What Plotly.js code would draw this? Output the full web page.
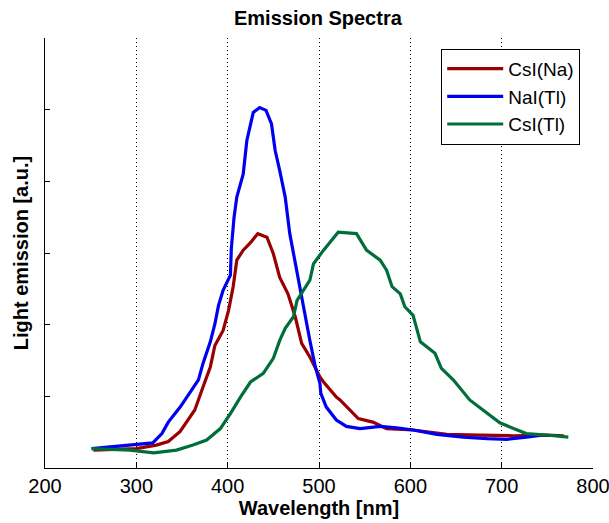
<!DOCTYPE html>
<html><head><meta charset="utf-8">
<script src="https://cdn.plot.ly/plotly-3.0.1.min.js"></script>
<style>html,body{margin:0;padding:0;background:#fff}#chart{width:609px;height:523px}</style>
</head><body><div id="chart"></div>
<script>
const csiNaX = [253,275,300,322,335,348,364,373,381,386,395,401,406,410,417,424,433,443,450,457,466,474,481,490,501,505,519,523,543,559,574,603,640,676,713,749,768];
const csiNaY = [0.25,0.26,0.27,0.32,0.37,0.51,0.81,1.13,1.41,1.71,1.92,2.20,2.53,2.90,3.04,3.13,3.27,3.22,2.99,2.66,2.43,2.11,1.74,1.55,1.27,1.20,0.99,0.95,0.69,0.64,0.55,0.53,0.47,0.46,0.45,0.46,0.45];
const naiX = [251,274,296,318,328,335,348,359,368,373,381,386,390,395,403,404,407,410,417,421,425,428,435,442,448,452,457,463,468,476,483,490,496,501,502,508,519,530,545,567,585,603,629,658,684,706,727,746];
const naiY = [0.27,0.30,0.32,0.35,0.48,0.64,0.85,1.06,1.23,1.46,1.76,2.01,2.27,2.48,2.69,3.06,3.50,3.78,4.10,4.57,4.80,4.96,5.03,4.99,4.80,4.43,4.15,3.78,3.27,2.71,2.25,1.78,1.41,1.18,1.04,0.85,0.67,0.58,0.55,0.58,0.56,0.53,0.47,0.43,0.41,0.40,0.43,0.46];
const csiTlX = [251,293,319,344,362,377,392,403,414,425,439,450,457,463,472,476,490,494,505,521,541,552,567,574,580,589,594,603,611,627,634,647,665,684,698,713,727,749,773];
const csiTlY = [0.27,0.25,0.21,0.25,0.32,0.39,0.55,0.76,0.99,1.20,1.32,1.53,1.78,1.95,2.11,2.34,2.62,2.85,3.04,3.29,3.27,3.04,2.90,2.76,2.53,2.43,2.25,2.13,1.76,1.60,1.39,1.23,0.95,0.76,0.63,0.55,0.48,0.46,0.43];
const seriesNames = ['CsI(Na)','NaI(Tl)','CsI(Tl)'];
const seriesColors = ['#9a0000','#0000f0','#006e3a'];
const xTicks = [200,300,400,500,600,700,800];
const yTicks = [0,1,2,3,4,5,6];

const xs=[csiNaX,naiX,csiTlX], ys=[csiNaY,naiY,csiTlY];
const fam = '"Liberation Sans", Arial, sans-serif';
const f = (s)=>({family:fam,size:s,color:'#000'});
const traces = seriesNames.map((n,i)=>({x:xs[i],y:ys[i],name:n,type:'scatter',mode:'lines',
  line:{color:seriesColors[i],width:3.2}}));
const layout = {
  width:609,height:523,paper_bgcolor:'#fff',plot_bgcolor:'#fff',
  margin:{l:45,r:16,t:38,b:55},
  font:f(20),
  title:{text:'<b>Emission Spectra</b>',x:0.522,xanchor:'center',y:0.966,yanchor:'middle',font:f(20)},
  xaxis:{range:[200,800],tickvals:xTicks,ticktext:xTicks.map(String),ticks:'inside',ticklen:5,tickcolor:'#000',
    ticklabeloverflow:'allow',
    showline:true,linecolor:'#000',linewidth:1,mirror:false,showgrid:true,gridcolor:'#000',griddash:'1px,3px',gridwidth:1,
    zeroline:false,tickfont:f(20),
    title:{text:'<b>Wavelength [nm]</b>',standoff:0,font:f(20)}},
  yaxis:{range:[0,6],tickvals:yTicks,showticklabels:false,ticks:'inside',ticklen:5,tickcolor:'#000',
    showline:true,linecolor:'#000',linewidth:1,showgrid:false,zeroline:false,
    title:{text:'<b>Light emission [a.u.]</b>',standoff:10,font:f(20)}},
  legend:{x:0.723,y:0.975,xanchor:'left',yanchor:'top',bgcolor:'#fff',bordercolor:'#000',borderwidth:1,
    font:f(19),tracegroupgap:0,itemwidth:56},
  showlegend:true
};
Plotly.newPlot('chart',traces,layout,{displayModeBar:false,staticPlot:true});
</script></body></html>
